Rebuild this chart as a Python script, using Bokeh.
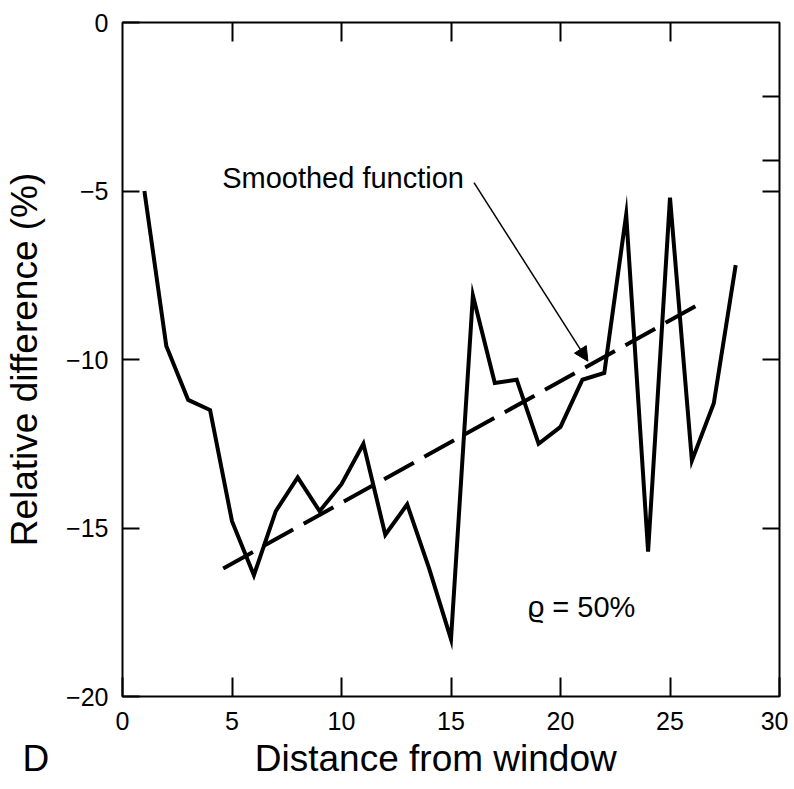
from bokeh.plotting import figure
from bokeh.models import Range1d, LinearAxis, FixedTicker, Label, Arrow, NormalHead, Title
from bokeh.embed import file_html
from bokeh.resources import INLINE

# ---- data ----
distance = list(range(1, 29))
rel_diff = [-5.0, -9.6, -11.2, -11.5, -14.8, -16.4, -14.5, -13.5, -14.5, -13.7,
            -12.5, -15.2, -14.3, -16.2, -18.3, -8.1, -10.7, -10.6, -12.5, -12.0,
            -10.6, -10.4, -5.7, -15.7, -5.2, -13.0, -11.3, -7.2]
smooth_x = [4.6, 26.5]
smooth_y = [-16.2, -8.3]

x_ticks = [0, 5, 10, 15, 20, 25, 30]
x_tick_labels = ["0", "5", "10", "15", "20", "25", "30"]
y_ticks = [0, -5, -10, -15, -20]
y_tick_labels = ["0", "\u22125", "\u221210", "\u221215", "\u221220"]
top_ticks = [5, 10, 15, 20, 25]
right_ticks = [-2.2, -4.1, -5, -10, -15]

FONT = "Liberation Sans"
NBSP = "\u00a0"

p = figure(width=788, height=789, output_backend="svg", toolbar_location=None,
           x_range=Range1d(0, 30), y_range=Range1d(-20, 0),
           min_border_left=122, min_border_right=9, min_border_top=22,
           min_border_bottom=93)
p.xgrid.visible = False
p.ygrid.visible = False
p.outline_line_color = "black"
p.outline_line_width = 2
p.background_fill_color = "white"
p.border_fill_color = "white"

# bottom axis
xa = p.xaxis[0]
xa.ticker = FixedTicker(ticks=x_ticks)
xa.major_label_overrides = {t: l for t, l in zip(x_ticks, x_tick_labels)}
xa.axis_line_color = None
xa.major_tick_in = 19
xa.major_tick_out = 0
xa.major_tick_line_width = 2
xa.minor_tick_line_color = None
xa.major_label_text_font = FONT
xa.major_label_text_font_size = "25px"
xa.major_label_text_color = "black"
xa.major_label_standoff = 15

# panel label "D" and x axis title, set as one line below the axis
p.add_layout(Title(text="D" + NBSP * 20 + "Distance from window", align="left",
                   offset=-100, standoff=6, text_font=FONT,
                   text_font_size="37px", text_font_style="normal",
                   text_color="black"), "below")

# left axis
ya = p.yaxis[0]
ya.ticker = FixedTicker(ticks=y_ticks)
ya.major_label_overrides = {t: l for t, l in zip(y_ticks, y_tick_labels)}
ya.axis_line_color = None
ya.major_tick_in = 17
ya.major_tick_out = 0
ya.major_tick_line_width = 2
ya.minor_tick_line_color = None
ya.major_label_text_font = FONT
ya.major_label_text_font_size = "25px"
ya.major_label_text_color = "black"
ya.major_label_standoff = 14
ya.axis_label = "Relative difference (%)"
ya.axis_label_text_font = FONT
ya.axis_label_text_font_size = "37px"
ya.axis_label_text_font_style = "normal"
ya.axis_label_text_color = "black"
ya.axis_label_standoff = 18

# top and right axes: ticks only (empty labels)
top = LinearAxis(ticker=FixedTicker(ticks=top_ticks), axis_line_color=None,
                 major_tick_in=19, major_tick_out=0, major_tick_line_width=2,
                 minor_tick_line_color=None, major_label_text_font_size="1px",
                 major_label_overrides={t: "" for t in top_ticks},
                 major_label_standoff=0)
right = LinearAxis(ticker=FixedTicker(ticks=right_ticks), axis_line_color=None,
                   major_tick_in=17, major_tick_out=0, major_tick_line_width=2,
                   minor_tick_line_color=None, major_label_text_font_size="1px",
                   major_label_overrides={t: "" for t in right_ticks},
                   major_label_standoff=0)
p.add_layout(top, "above")
p.add_layout(right, "right")

# data
p.line(distance, rel_diff, line_color="black", line_width=4, line_join="miter")
p.line(smooth_x, smooth_y, line_color="black", line_width=4, line_dash="34 12")

# annotations
p.add_layout(Label(x=4.55, y=-4.62, text="Smoothed function", text_font=FONT,
                   text_font_size="29px", text_color="black",
                   text_baseline="alphabetic"))
p.add_layout(Arrow(x_start=16.05, y_start=-4.75, x_end=21.25, y_end=-10.05,
                   line_color="black", line_width=1.5,
                   end=NormalHead(size=14, fill_color="black", line_color="black")))
p.add_layout(Label(x=18.5, y=-17.33, text="\u03f1 = 50%", text_font=FONT,
                   text_font_size="29px", text_color="black",
                   text_baseline="alphabetic"))

open("out.html", "w").write(file_html(p, INLINE))
